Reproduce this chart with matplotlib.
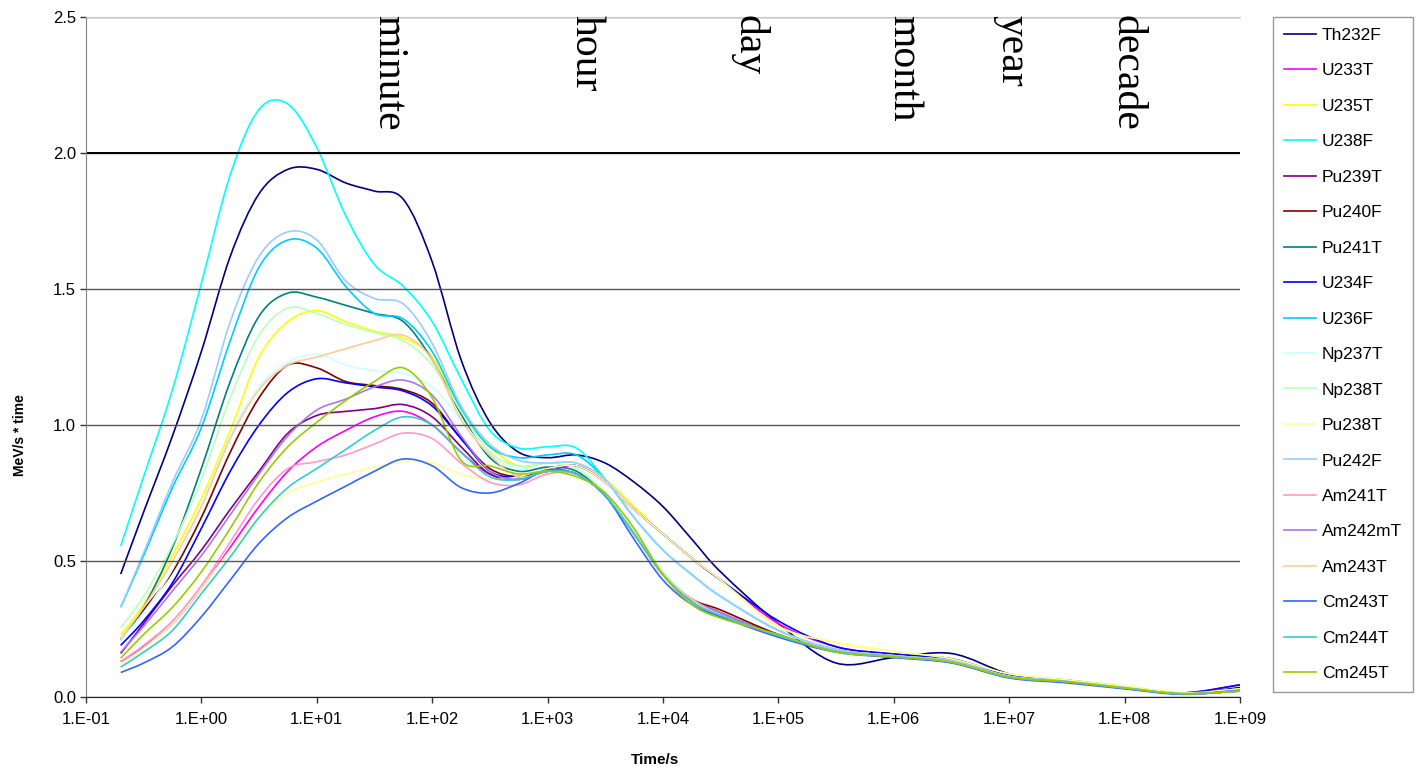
import numpy as np
import matplotlib
matplotlib.use('Agg')
import matplotlib.pyplot as plt
from matplotlib.path import Path
from matplotlib.patches import PathPatch
from matplotlib.lines import Line2D

plt.rcParams['font.family'] = 'Liberation Sans'

# time grid (s) the curves were read at
times = [0.2, 0.316, 0.562, 1, 1.78, 3.16, 5.62, 10, 17.8, 31.6, 56.2, 100, 178, 316, 562,
         1e3, 1.78e3, 3.16e3, 5.62e3, 1e4, 1.78e4, 3.16e4, 1e5, 3.16e5, 1e6, 3.16e6,
         1e7, 3.16e7, 1e8, 3.16e8, 1e9]

Th232F = [0.452, 0.68, 0.96, 1.27, 1.62, 1.85, 1.94, 1.94, 1.89, 1.86, 1.83, 1.60, 1.24, 1.01, 0.90,
          0.88, 0.89, 0.86, 0.79, 0.70, 0.58, 0.46, 0.27, 0.125, 0.145, 0.16, 0.085, 0.055, 0.035, 0.012, 0.035]
U233T = [0.13, 0.185, 0.27, 0.40, 0.55, 0.70, 0.83, 0.92, 0.98, 1.03, 1.05, 1.00, 0.90, 0.82, 0.81,
         0.83, 0.85, 0.79, 0.69, 0.60, 0.51, 0.43, 0.27, 0.185, 0.158, 0.14, 0.082, 0.062, 0.038, 0.015, 0.045]
U235T = [0.228, 0.34, 0.52, 0.73, 0.98, 1.25, 1.38, 1.42, 1.38, 1.345, 1.32, 1.25, 1.05, 0.92, 0.85,
         0.86, 0.86, 0.80, 0.70, 0.60, 0.51, 0.43, 0.26, 0.20, 0.168, 0.14, 0.085, 0.063, 0.04, 0.015, 0.03]
U238F = [0.555, 0.81, 1.13, 1.52, 1.92, 2.16, 2.18, 2.02, 1.77, 1.59, 1.51, 1.38, 1.17, 0.98, 0.915,
         0.92, 0.915, 0.80, 0.66, 0.54, 0.45, 0.37, 0.245, 0.175, 0.152, 0.132, 0.076, 0.058, 0.035, 0.012, 0.025]
Pu239T = [0.16, 0.27, 0.41, 0.54, 0.69, 0.83, 0.97, 1.035, 1.05, 1.06, 1.075, 1.03, 0.92, 0.82, 0.80,
          0.83, 0.82, 0.74, 0.60, 0.45, 0.36, 0.31, 0.225, 0.168, 0.148, 0.128, 0.073, 0.056, 0.033, 0.012, 0.022]
Pu240F = [0.21, 0.32, 0.46, 0.66, 0.90, 1.10, 1.22, 1.21, 1.16, 1.145, 1.13, 1.08, 0.95, 0.84, 0.81,
          0.83, 0.82, 0.74, 0.60, 0.45, 0.36, 0.32, 0.23, 0.168, 0.148, 0.128, 0.073, 0.056, 0.033, 0.012, 0.022]
Pu241T = [0.21, 0.33, 0.55, 0.84, 1.16, 1.40, 1.485, 1.47, 1.44, 1.41, 1.38, 1.24, 1.04, 0.88, 0.83,
          0.845, 0.83, 0.74, 0.60, 0.45, 0.35, 0.30, 0.225, 0.168, 0.148, 0.128, 0.073, 0.056, 0.033, 0.012, 0.022]
U234F = [0.19, 0.28, 0.42, 0.62, 0.83, 1.00, 1.12, 1.17, 1.155, 1.14, 1.125, 1.07, 0.95, 0.83, 0.81,
         0.84, 0.85, 0.79, 0.69, 0.60, 0.51, 0.43, 0.28, 0.185, 0.158, 0.14, 0.082, 0.062, 0.038, 0.015, 0.045]
U236F = [0.33, 0.52, 0.77, 0.99, 1.31, 1.58, 1.68, 1.65, 1.51, 1.41, 1.39, 1.27, 1.06, 0.92, 0.88,
         0.89, 0.89, 0.80, 0.66, 0.54, 0.45, 0.37, 0.245, 0.175, 0.152, 0.132, 0.076, 0.058, 0.035, 0.012, 0.025]
Np237T = [0.21, 0.31, 0.47, 0.70, 0.96, 1.14, 1.23, 1.26, 1.22, 1.20, 1.19, 1.14, 1.02, 0.89, 0.84,
          0.86, 0.86, 0.80, 0.66, 0.54, 0.45, 0.37, 0.245, 0.175, 0.152, 0.132, 0.076, 0.058, 0.035, 0.012, 0.025]
Np238T = [0.254, 0.37, 0.56, 0.80, 1.10, 1.33, 1.43, 1.41, 1.37, 1.34, 1.31, 1.22, 1.05, 0.90, 0.85,
          0.86, 0.84, 0.75, 0.61, 0.46, 0.36, 0.30, 0.225, 0.168, 0.148, 0.128, 0.073, 0.056, 0.033, 0.012, 0.022]
Pu238T = [0.12, 0.18, 0.27, 0.40, 0.54, 0.66, 0.75, 0.79, 0.82, 0.845, 0.865, 0.86, 0.82, 0.80, 0.81,
          0.84, 0.85, 0.79, 0.69, 0.60, 0.51, 0.43, 0.26, 0.20, 0.168, 0.14, 0.085, 0.063, 0.04, 0.015, 0.03]
Pu242F = [0.33, 0.53, 0.79, 1.02, 1.38, 1.62, 1.71, 1.68, 1.53, 1.465, 1.445, 1.30, 1.07, 0.93, 0.87,
          0.86, 0.86, 0.80, 0.66, 0.54, 0.45, 0.37, 0.245, 0.175, 0.152, 0.132, 0.076, 0.058, 0.035, 0.012, 0.025]
Am241T = [0.13, 0.19, 0.28, 0.41, 0.57, 0.73, 0.84, 0.865, 0.89, 0.93, 0.97, 0.95, 0.86, 0.79, 0.78,
          0.82, 0.82, 0.74, 0.60, 0.45, 0.35, 0.30, 0.225, 0.168, 0.148, 0.128, 0.073, 0.056, 0.033, 0.012, 0.022]
Am242mT = [0.165, 0.26, 0.39, 0.52, 0.67, 0.82, 0.96, 1.055, 1.095, 1.14, 1.165, 1.11, 0.96, 0.83, 0.80,
           0.83, 0.82, 0.74, 0.60, 0.45, 0.36, 0.31, 0.225, 0.168, 0.148, 0.128, 0.073, 0.056, 0.033, 0.012, 0.022]
Am243T = [0.215, 0.33, 0.50, 0.70, 0.95, 1.13, 1.22, 1.25, 1.28, 1.31, 1.33, 1.24, 1.02, 0.89, 0.81,
          0.83, 0.82, 0.74, 0.60, 0.45, 0.36, 0.30, 0.225, 0.168, 0.148, 0.128, 0.073, 0.056, 0.033, 0.012, 0.022]
Cm243T = [0.09, 0.125, 0.185, 0.295, 0.43, 0.565, 0.66, 0.72, 0.775, 0.83, 0.875, 0.85, 0.77, 0.75, 0.785,
          0.835, 0.82, 0.74, 0.58, 0.43, 0.34, 0.295, 0.22, 0.165, 0.145, 0.125, 0.07, 0.052, 0.03, 0.01, 0.025]
Cm244T = [0.11, 0.165, 0.245, 0.38, 0.515, 0.66, 0.77, 0.84, 0.91, 0.98, 1.03, 1.00, 0.90, 0.81, 0.80,
          0.83, 0.82, 0.74, 0.60, 0.45, 0.35, 0.30, 0.225, 0.168, 0.148, 0.128, 0.073, 0.056, 0.033, 0.012, 0.022]
Cm245T = [0.143, 0.23, 0.33, 0.46, 0.62, 0.79, 0.92, 1.01, 1.09, 1.16, 1.21, 1.10, 0.87, 0.85, 0.82,
          0.83, 0.81, 0.75, 0.62, 0.45, 0.34, 0.29, 0.23, 0.165, 0.148, 0.128, 0.073, 0.056, 0.033, 0.012, 0.022]

series_names = ['Th232F', 'U233T', 'U235T', 'U238F', 'Pu239T', 'Pu240F', 'Pu241T', 'U234F', 'U236F',
                'Np237T', 'Np238T', 'Pu238T', 'Pu242F', 'Am241T', 'Am242mT', 'Am243T', 'Cm243T',
                'Cm244T', 'Cm245T']
series_values = [Th232F, U233T, U235T, U238F, Pu239T, Pu240F, Pu241T, U234F, U236F, Np237T, Np238T,
                 Pu238T, Pu242F, Am241T, Am242mT, Am243T, Cm243T, Cm244T, Cm245T]
line_colors = ['#000080', '#FF00FF', '#FFFF00', '#00FFFF', '#800080', '#800000', '#008080', '#0000FF',
               '#00CCFF', '#CCFFFF', '#BBFFBB', '#FFFF99', '#99CCFF', '#FF99CC', '#AA77EE', '#FFCC99',
               '#3366FF', '#33CCCC', '#99CC00']

# time-scale markers along the top
scale_words = ['minute', 'hour', 'day', 'month', 'year', 'decade']
scale_pos = [28.6, 1455, 3.76e4, 8.28e5, 7.14e6, 7.10e7]


def smooth_path(xs, ys):
    # spreadsheet-style smoothed line: cubic Bezier segments through every point,
    # built in log-time so the curve looks the same on the log axis
    pts = np.column_stack([np.log10(xs), ys])
    ext = np.vstack([pts[0], pts, pts[-1]])
    verts = [pts[0]]
    codes = [Path.MOVETO]
    for i in range(len(pts) - 1):
        p0, p1, p2, p3 = ext[i], ext[i + 1], ext[i + 2], ext[i + 3]
        verts += [p1 + (p2 - p0) / 6, p2 - (p3 - p1) / 6, p2]
        codes += [Path.CURVE4] * 3
    verts = np.array(verts)
    verts[:, 0] = 10 ** verts[:, 0]
    return Path(verts, codes)


fig = plt.figure(figsize=(14.16, 7.69), dpi=100)
ax = fig.add_axes([0.0607, 0.0936, 0.815, 0.8843])

ax.set_xscale('log')
ax.set_xlim(0.1, 1e9)
ax.set_ylim(0, 2.5)

handles = []
for name, values, color in zip(series_names, series_values, line_colors):
    ax.add_patch(PathPatch(smooth_path(times, values), facecolor='none', edgecolor=color, lw=1.2))
    handles.append(Line2D([], [], color=color, lw=1.2))

ax.set_xticks([10.0 ** e for e in range(-1, 10)])
ax.set_xticklabels(['1.E%+03d' % e for e in range(-1, 10)])
ax.minorticks_off()
ax.set_yticks([0, 0.5, 1.0, 1.5, 2.0, 2.5])
ax.set_yticklabels(['%.1f' % v for v in [0, 0.5, 1.0, 1.5, 2.0, 2.5]])
ax.tick_params(labelsize=12, length=4, width=1, color='#333333')
ax.tick_params(axis='x', pad=6.5)
ax.tick_params(axis='y', pad=3)

ax.yaxis.grid(True, color='#555555', lw=1.0)
ax.axhline(2.0, color='black', lw=1.4)
ax.spines['right'].set_visible(False)
ax.spines['top'].set_color('#c8c8c8')
ax.spines['left'].set_color('#808080')
ax.spines['bottom'].set_color('#222222')

for word, pos in zip(scale_words, scale_pos):
    ax.text(pos, 2.507, word, rotation=-90, ha='left', va='top',
            family='Liberation Serif', fontsize=30)

fig.text(20 / 1416, 1 - 435 / 769, 'MeV/s * time', rotation=90, ha='center', va='center',
         fontsize=10, fontweight='bold')
fig.text(655 / 1416, 1 - 760 / 769, 'Time/s', ha='center', va='center',
         fontsize=11, fontweight='bold')

leg = fig.legend(handles, series_names, loc='upper left', bbox_to_anchor=(1273 / 1416, 1 - 17 / 769),
                 borderaxespad=0, fontsize=12.5, frameon=True, fancybox=False, edgecolor='#808080',
                 handlelength=1.84, handletextpad=0.35, labelspacing=1.17, borderpad=0.62)
leg.get_frame().set_linewidth(1.0)

fig.savefig('out.png', dpi=100)
